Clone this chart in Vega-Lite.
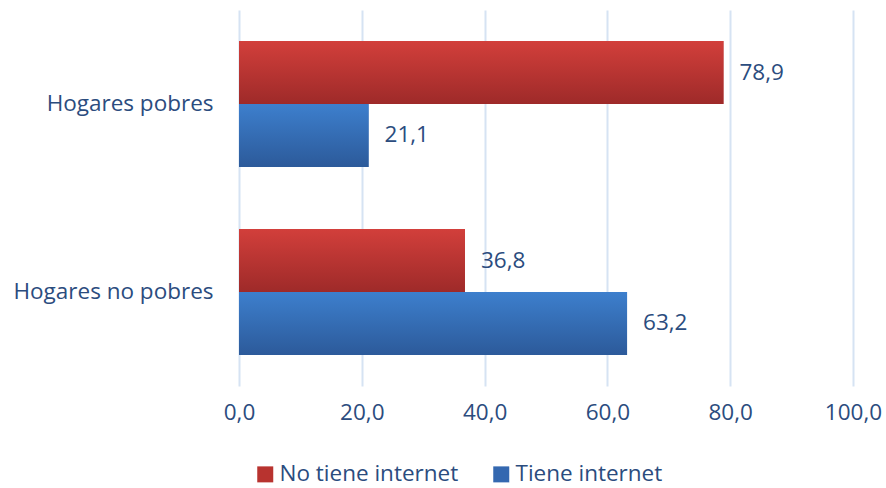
{
  "$schema": "https://vega.github.io/schema/vega-lite/v6.json",
  "width": 614,
  "height": 376,
  "autosize": {"type": "none"},
  "padding": {"left": 239, "top": 10, "right": 33, "bottom": 102},
  "background": "#ffffff",
  "config": {
    "locale": {"number": {"decimal": ",", "thousands": ".", "grouping": [3], "currency": ["", " €"]}},
    "font": "Open Sans",
    "view": {"stroke": null},
    "axis": {"labelColor": "#2B4C7E", "labelFont": "Open Sans", "titleColor": "#2B4C7E"},
    "legend": {"labelColor": "#2B4C7E", "labelFont": "Open Sans"}
  },
  "data": {
    "values": [
      {"hogar": "Hogares pobres", "serie": "No tiene internet", "valor": 78.9},
      {"hogar": "Hogares pobres", "serie": "Tiene internet", "valor": 21.1},
      {"hogar": "Hogares no pobres", "serie": "No tiene internet", "valor": 36.8},
      {"hogar": "Hogares no pobres", "serie": "Tiene internet", "valor": 63.2}
    ]
  },
  "encoding": {
    "y": {
      "field": "hogar", "type": "nominal",
      "sort": ["Hogares pobres", "Hogares no pobres"],
      "scale": {"paddingInner": 0.33, "paddingOuter": 0.165},
      "axis": {"title": null, "domain": false, "ticks": false, "labelFontSize": 22.5, "labelPadding": 26, "labelLimit": 300}
    },
    "yOffset": {
      "field": "serie", "type": "nominal",
      "sort": ["No tiene internet", "Tiene internet"],
      "scale": {"paddingInner": 0, "paddingOuter": 0}
    },
    "x": {
      "field": "valor", "type": "quantitative",
      "scale": {"domain": [0, 100], "nice": false},
      "axis": {
        "title": null, "values": [0, 20, 40, 60, 80, 100], "format": ".1f",
        "domain": false, "ticks": false, "labelFontSize": 22.5, "labelPadding": 15,
        "labelFlush": false, "labelOverlap": false, "labelBound": false,
        "grid": true, "gridColor": "#D6E3F3", "gridWidth": 2
      }
    }
  },
  "layer": [
    {
      "mark": {"type": "bar"},
      "encoding": {
        "color": {
          "field": "serie", "type": "nominal",
          "sort": ["No tiene internet", "Tiene internet"],
          "scale": {"domain": ["No tiene internet", "Tiene internet"], "range": ["#B8332F", "#3468B0"]},
          "legend": {
            "title": null, "orient": "none", "direction": "horizontal",
            "legendX": 15, "legendY": 453,
            "symbolType": "square", "symbolSize": 256, "symbolStrokeWidth": 0,
            "labelFontSize": 22.5, "labelOffset": 3, "labelLimit": 400, "columnPadding": 31
          }
        }
      }
    },
    {
      "transform": [{"filter": "datum.serie === 'No tiene internet'"}],
      "mark": {
        "type": "bar",
        "color": {"gradient": "linear", "x1": 0, "y1": 0, "x2": 0, "y2": 1,
          "stops": [{"offset": 0, "color": "#D23F3B"}, {"offset": 1, "color": "#9E2A29"}]}
      }
    },
    {
      "transform": [{"filter": "datum.serie === 'Tiene internet'"}],
      "mark": {
        "type": "bar",
        "color": {"gradient": "linear", "x1": 0, "y1": 0, "x2": 0, "y2": 1,
          "stops": [{"offset": 0, "color": "#3D7FCD"}, {"offset": 1, "color": "#2C5A9A"}]}
      }
    },
    {
      "mark": {"type": "text", "align": "left", "baseline": "middle", "dx": 16, "fontSize": 22.5, "color": "#2B4C7E", "font": "Open Sans"},
      "encoding": {
        "text": {"field": "valor", "type": "quantitative", "format": ".1f"}
      }
    }
  ]
}
